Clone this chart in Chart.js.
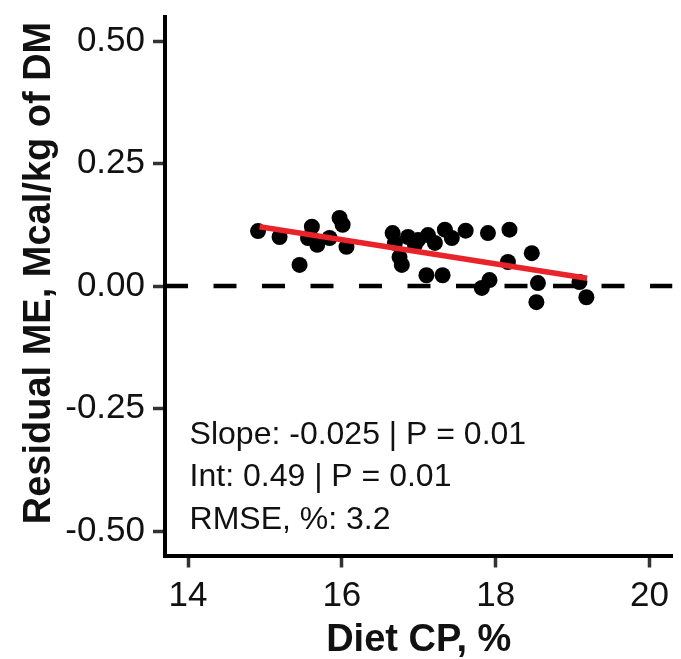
<!DOCTYPE html>
<html>
<head>
<meta charset="utf-8">
<script src="https://cdn.jsdelivr.net/npm/chart.js@4.4.1/dist/chart.umd.min.js"></script>
<style>
  html, body { margin: 0; padding: 0; background: #ffffff; }
  #wrap { width: 681px; height: 659px; }
</style>
</head>
<body>
<div id="wrap"><canvas id="c" width="681" height="659"></canvas></div>
<script>
// ---- Data ----
const dietCP = [14.91, 15.19, 15.45, 15.56, 15.61, 15.68, 15.84, 15.97, 16.01, 16.06,
                16.66, 16.69, 16.75, 16.78, 16.86, 16.95, 16.99, 17.10, 17.12, 17.21,
                17.31, 17.34, 17.43, 17.61, 17.82, 17.90, 17.92, 18.16, 18.18, 18.47,
                18.53, 18.55, 19.09, 19.18];
const residualME = [0.112, 0.100, 0.043, 0.098, 0.121, 0.084, 0.098, 0.139, 0.125, 0.080,
                    0.108, 0.088, 0.059, 0.043, 0.100, 0.084, 0.094, 0.022, 0.104, 0.088,
                    0.022, 0.115, 0.098, 0.113, -0.004, 0.108, 0.012, 0.049, 0.115, 0.067,
                    -0.033, 0.006, 0.008, -0.023];
const fitX = [14.93, 19.19];
const fitY = [0.121, 0.016];
const refLineX = [13.7, 20.3];
const refLineY = [0, 0];
const xTicks = [14, 16, 18, 20];
const xTickLabels = ["14", "16", "18", "20"];
const yTicks = [-0.5, -0.25, 0, 0.25, 0.5];
const yTickLabels = ["-0.50", "-0.25", "0.00", "0.25", "0.50"];
const xTitle = "Diet CP, %";
const yTitle = "Residual ME, Mcal/kg of DM";
const annotLines = ["Slope: -0.025 | P = 0.01", "Int: 0.49 | P = 0.01", "RMSE, %: 3.2"];
const annotX = 14.02;
const annotY = [-0.323, -0.409, -0.495];

const FONT = "'Liberation Sans', Arial, Helvetica, sans-serif";

const toXY = (xs, ys) => xs.map((x, i) => ({ x: x, y: ys[i] }));

const textPlugin = {
  id: 'texts',
  afterDatasetsDraw(chart) {
    const { ctx, scales, chartArea } = chart;
    ctx.save();
    // annotation block
    ctx.fillStyle = '#111111';
    ctx.font = '32px ' + FONT;
    ctx.textAlign = 'left';
    ctx.textBaseline = 'alphabetic';
    annotLines.forEach((t, i) => {
      ctx.fillText(t, scales.x.getPixelForValue(annotX), scales.y.getPixelForValue(annotY[i]));
    });
    ctx.restore();
  },
  afterDraw(chart) {
    const { ctx, chartArea } = chart;
    ctx.save();
    ctx.fillStyle = '#111111';
    ctx.font = 'bold 38px ' + FONT;
    ctx.textAlign = 'center';
    ctx.textBaseline = 'middle';
    ctx.translate(40, (chartArea.top + chartArea.bottom) / 2 - 13);
    ctx.rotate(-Math.PI / 2);
    ctx.fillText(yTitle, 0, 0);
    ctx.restore();
  }
};

new Chart(document.getElementById('c'), {
  type: 'scatter',
  data: {
    datasets: [
      {
        type: 'line',
        data: toXY(fitX, fitY),
        borderColor: '#e8232a',
        borderWidth: 5.5,
        pointRadius: 0,
        fill: false,
        order: 0
      },
      {
        data: toXY(dietCP, residualME),
        backgroundColor: '#000000',
        borderColor: '#000000',
        borderWidth: 0,
        pointRadius: 8,
        order: 1
      },
      {
        type: 'line',
        data: toXY(refLineX, refLineY),
        borderColor: '#000000',
        borderWidth: 4.5,
        borderDash: [23, 25.5],
        pointRadius: 0,
        fill: false,
        order: 2
      }
    ]
  },
  options: {
    responsive: false,
    animation: false,
    events: [],
    layout: { padding: { top: 16.5, right: 8.5, left: 0, bottom: 0 } },
    plugins: { legend: { display: false }, tooltip: { enabled: false } },
    scales: {
      x: {
        type: 'linear',
        min: 13.7,
        max: 20.3,
        afterFit(s) { s.height = 103.5; s.paddingLeft = 0; s.paddingRight = 0; },
        afterBuildTicks(s) { s.ticks = xTicks.map(v => ({ value: v })); },
        border: { display: true, color: '#000000', width: 4 },
        grid: { display: true, drawOnChartArea: false, drawTicks: true, tickLength: 12, tickColor: '#333333', tickWidth: 3.5 },
        ticks: {
          color: '#111111',
          font: { family: FONT, size: 35 },
          padding: 8,
          maxRotation: 0,
          autoSkip: false,
          callback: (v) => xTickLabels[xTicks.indexOf(v)]
        },
        title: {
          display: true,
          text: xTitle,
          color: '#111111',
          font: { family: FONT, size: 38, weight: 'bold', lineHeight: 1 },
          padding: { top: 0, bottom: -1 }
        }
      },
      y: {
        type: 'linear',
        min: -0.55,
        max: 0.55,
        afterFit(s) { s.width = 165; s.paddingTop = 0; s.paddingBottom = 0; },
        afterBuildTicks(s) { s.ticks = yTicks.map(v => ({ value: v })); },
        border: { display: true, color: '#000000', width: 4 },
        grid: { display: true, drawOnChartArea: false, drawTicks: true, tickLength: 12, tickColor: '#333333', tickWidth: 3.5 },
        ticks: {
          color: '#111111',
          font: { family: FONT, size: 35 },
          padding: 8,
          autoSkip: false,
          callback: (v) => yTickLabels[yTicks.indexOf(v)]
        },
        title: { display: false }
      }
    }
  },
  plugins: [textPlugin]
});
</script>
</body>
</html>
